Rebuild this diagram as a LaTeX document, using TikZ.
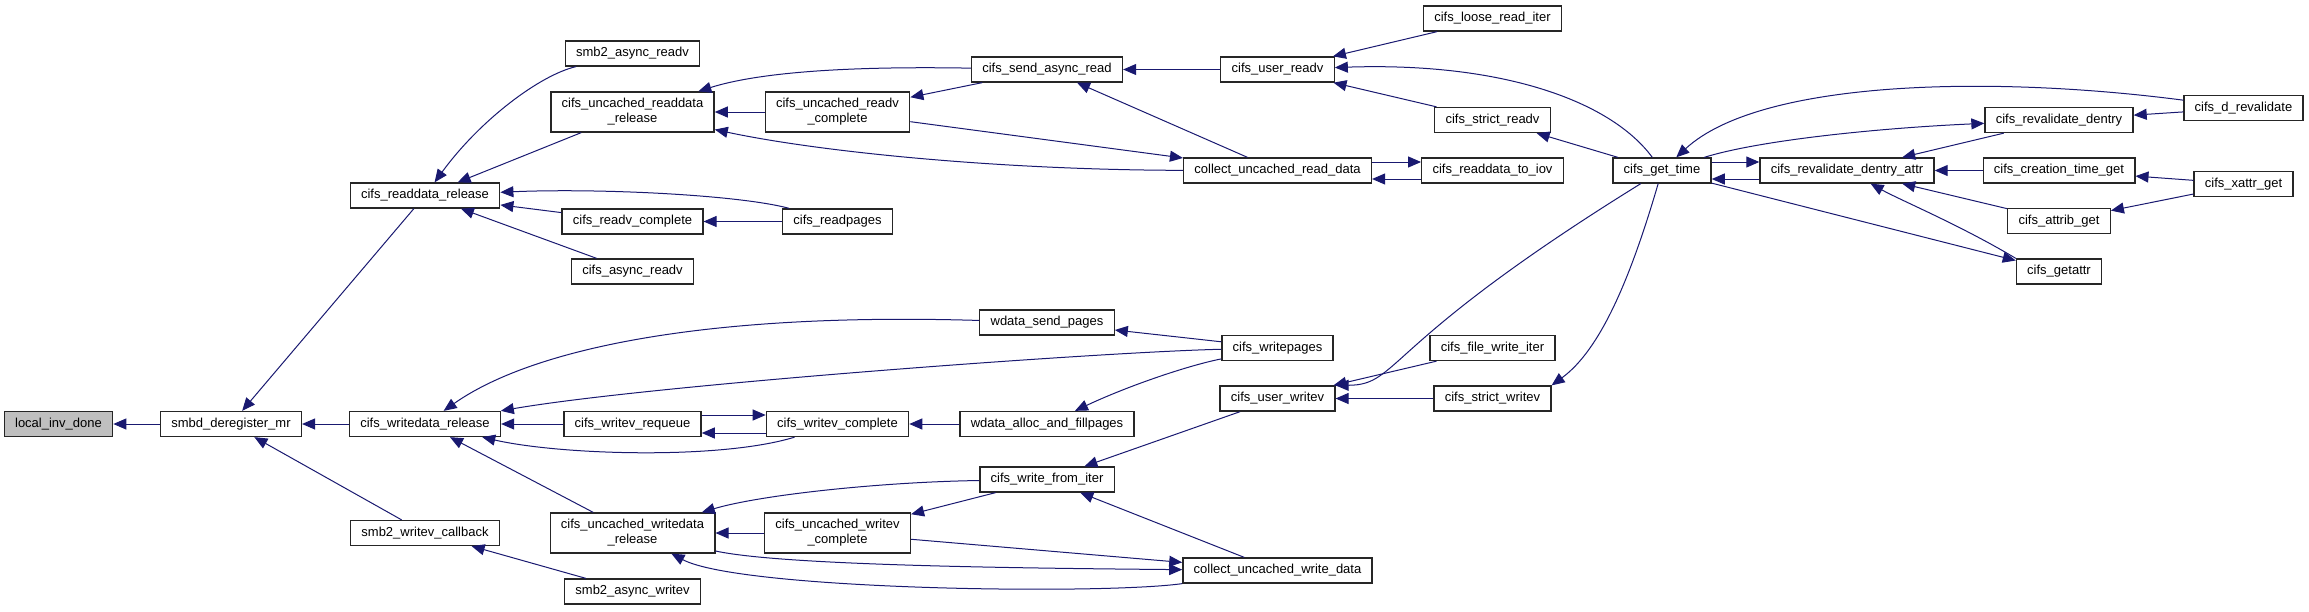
\documentclass[tikz,border=0pt]{standalone}
\usepackage{fontspec}
\setmainfont{Liberation Sans}
\usetikzlibrary{arrows.meta}
\definecolor{edgeblue}{RGB}{25,25,112}

\begin{document}
\begin{tikzpicture}[
			x=0.5pt, y=-0.5pt,
			fn/.style={draw=black!85, line width=0.65pt, fill=white,
			minimum height=12.5pt, inner xsep=5.4pt, inner ysep=1pt,
			font=\fontsize{6.5}{7.5}\selectfont, align=center},
			fn2/.style={fn, minimum height=20pt},
			rootfn/.style={fn, fill=gray!50},
			callarr/.style={draw=edgeblue, line width=0.5pt,
			-{Triangle[length=6.5pt, width=5.5pt]}}
		]
			\useasboundingbox (0,0) rectangle (2309,611);

			% 各列 x 坐标
			\def\colA{58.5}
			\def\colB{231}
			\def\colC{425}
			\def\colD{632.5}
			\def\colE{837.5}
			\def\colF{1047}
			\def\colG{1277.5}
			\def\colH{1492.5}
			\def\colI{1662}
			\def\colJ{1847}
			\def\colK{2059}
			\def\colL{2243.5}

			% 被调函数
			\node[rootfn] (local) at (\colA,424) {local\_inv\_done};
			\node[fn] (dereg) at (\colB,424) {smbd\_deregister\_mr};

			% 第三列
			\node[fn] (rdrel) at (\colC,195.5) {cifs\_readdata\_release};
			\node[fn] (wdrel) at (\colC,424) {cifs\_writedata\_release};
			\node[fn] (wvcb)  at (\colC,533) {smb2\_writev\_callback};

			% 第四列
			\node[fn]  (s2ard)   at (\colD,53.5)  {smb2\_async\_readv};
			\node[fn2] (ucrdrel) at (\colD,112)   {cifs\_uncached\_readdata\\\_release};
			\node[fn]  (rvcomp)  at (\colD,221.5) {cifs\_readv\_complete};
			\node[fn]  (asyncrd) at (\colD,271.5) {cifs\_async\_readv};
			\node[fn]  (wvreq)   at (\colD,424)   {cifs\_writev\_requeue};
			\node[fn2] (ucwdrel) at (\colD,533)   {cifs\_uncached\_writedata\\\_release};
			\node[fn]  (s2awv)   at (\colD,591.5) {smb2\_async\_writev};

			% 第五列
			\node[fn2] (ucrvcomp)  at (\colE,112)   {cifs\_uncached\_readv\\\_complete};
			\node[fn]  (readpages) at (\colE,221.5) {cifs\_readpages};
			\node[fn]  (wvcomp)    at (\colE,424)   {cifs\_writev\_complete};
			\node[fn2] (ucwvcomp)  at (\colE,533)   {cifs\_uncached\_writev\\\_complete};

			% 第六列
			\node[fn] (sendrd)    at (\colF,69.5)  {cifs\_send\_async\_read};
			\node[fn] (wdsend)    at (\colF,322.5) {wdata\_send\_pages};
			\node[fn] (wdalloc)   at (\colF,424)   {wdata\_alloc\_and\_fillpages};
			\node[fn] (wfromiter) at (\colF,479.5) {cifs\_write\_from\_iter};

			% 第七列
			\node[fn] (userrd)     at (\colG,69.5)  {cifs\_user\_readv};
			\node[fn] (collrd)     at (\colG,170.5) {collect\_uncached\_read\_data};
			\node[fn] (writepages) at (\colG,348)   {cifs\_writepages};
			\node[fn] (userwr)     at (\colG,398.5) {cifs\_user\_writev};
			\node[fn] (collwr)     at (\colG,570.5) {collect\_uncached\_write\_data};

			% 第八列
			\node[fn] (looserd)  at (\colH,18.5)  {cifs\_loose\_read\_iter};
			\node[fn] (strictrd) at (\colH,120)   {cifs\_strict\_readv};
			\node[fn] (rd2iov)   at (\colH,170.5) {cifs\_readdata\_to\_iov};
			\node[fn] (fwiter)   at (\colH,348)   {cifs\_file\_write\_iter};
			\node[fn] (strictwr) at (\colH,398.5) {cifs\_strict\_writev};

			% 右侧
			\node[fn] (gettime)  at (\colI,170.5) {cifs\_get\_time};
			\node[fn] (rvattr)   at (\colJ,170.5) {cifs\_revalidate\_dentry\_attr};
			\node[fn] (rvdentry) at (\colK,120)   {cifs\_revalidate\_dentry};
			\node[fn] (ctime)    at (\colK,170.5) {cifs\_creation\_time\_get};
			\node[fn] (attrib)   at (\colK,221)   {cifs\_attrib\_get};
			\node[fn] (getattr)  at (\colK,271.5) {cifs\_getattr};
			\node[fn] (drval)    at (\colL,108)   {cifs\_d\_revalidate};
			\node[fn] (xattr)    at (\colL,184)   {cifs\_xattr\_get};

			% 调用关系（箭头指向被调函数）
			\draw[callarr] (dereg) -- (local);
			\draw[callarr] (rdrel) -- (dereg);
			\draw[callarr] (wdrel) -- (dereg);
			\draw[callarr] (wvcb) -- (dereg);

			\draw[callarr] (s2ard) .. controls (540,75) and (480,120) .. (rdrel);
			\draw[callarr] (ucrdrel) -- (rdrel);
			\draw[callarr] (readpages) .. controls (740,195) and (600,188) .. (rdrel);
			\draw[callarr] (rvcomp) -- (rdrel);
			\draw[callarr] (asyncrd) -- (rdrel);

			\draw[callarr] (wdsend) .. controls (700,312) and (530,350) .. (wdrel);
			\draw[callarr] (writepages) .. controls (1100,352) and (650,385) .. (wdrel);
			\draw[callarr] (wvreq) -- (wdrel);
			\draw[callarr] (wvcomp) .. controls (720,460) and (560,455) .. (wdrel);
			\draw[callarr] (ucwdrel) -- (wdrel);
			\draw[callarr] ([yshift=4.5pt]wvreq.east) -- ([yshift=4.5pt]wvcomp.west);
			\draw[callarr] ([yshift=-4.5pt]wvcomp.west) -- ([yshift=-4.5pt]wvreq.east);
			\draw[callarr] (s2awv) -- (wvcb);

			\draw[callarr] (sendrd) .. controls (850,66) and (760,72) .. (ucrdrel);
			\draw[callarr] (ucrvcomp) -- (ucrdrel);
			\draw[callarr] (collrd) .. controls (1000,170) and (820,152) .. (ucrdrel);
			\draw[callarr] (sendrd) -- (ucrvcomp);
			\draw[callarr] (ucrvcomp) -- (collrd);
			\draw[callarr] (readpages) -- (rvcomp);

			\draw[callarr] (userrd) -- (sendrd);
			\draw[callarr] (collrd) -- (sendrd);
			\draw[callarr] (looserd) -- (userrd);
			\draw[callarr] (gettime) .. controls (1610,100) and (1500,62) .. (userrd);
			\draw[callarr] (strictrd) -- (userrd);
			\draw[callarr] (gettime) -- (strictrd);
			\draw[callarr] ([yshift=4.25pt]collrd.east) -- ([yshift=4.25pt]rd2iov.west);
			\draw[callarr] ([yshift=-4.25pt]rd2iov.west) -- ([yshift=-4.25pt]collrd.east);

			\draw[callarr] (gettime) .. controls (1380,345) and (1400,385) .. (userwr.north east);
			\draw[callarr] (gettime) .. controls (1630,280) and (1600,350) .. (strictwr.north east);
			\draw[callarr] (fwiter) -- (userwr);
			\draw[callarr] (strictwr) -- (userwr);
			\draw[callarr] (writepages) -- (wdsend);
			\draw[callarr] (writepages) .. controls (1190,365) and (1130,385) .. (wdalloc);
			\draw[callarr] (wdalloc) -- (wvcomp);
			\draw[callarr] (userwr) -- (wfromiter);

			\draw[callarr] (wfromiter) .. controls (880,482) and (760,495) .. (ucwdrel);
			\draw[callarr] (wfromiter) -- (ucwvcomp);
			\draw[callarr] (collwr) -- (wfromiter);
			\draw[callarr] (ucwvcomp) -- (ucwdrel);
			\draw[callarr] (ucwvcomp) -- (collwr);
			\draw[callarr] (ucwdrel) .. controls (780,565) and (1000,568) .. (collwr);
			\draw[callarr] (collwr) .. controls (1100,595) and (740,590) .. (ucwdrel);

			\draw[callarr] (drval) .. controls (1990,75) and (1760,80) .. (gettime);
			\draw[callarr] (gettime) .. controls (1760,140) and (1880,128) .. (rvdentry);
			\draw[callarr] ([yshift=4.25pt]gettime.east) -- ([yshift=4.25pt]rvattr.west);
			\draw[callarr] ([yshift=-4.25pt]rvattr.west) -- ([yshift=-4.25pt]gettime.east);
			\draw[callarr] (gettime) -- (getattr);
			\draw[callarr] (rvdentry) -- (rvattr);
			\draw[callarr] (ctime) -- (rvattr);
			\draw[callarr] (attrib) -- (rvattr);
			\draw[callarr] (getattr.north west) .. controls (1960,225) and (1900,200) .. (rvattr);
			\draw[callarr] (drval) -- (rvdentry);
			\draw[callarr] (xattr) -- (ctime);
			\draw[callarr] (xattr) -- (attrib);
		\end{tikzpicture}
\end{document}
